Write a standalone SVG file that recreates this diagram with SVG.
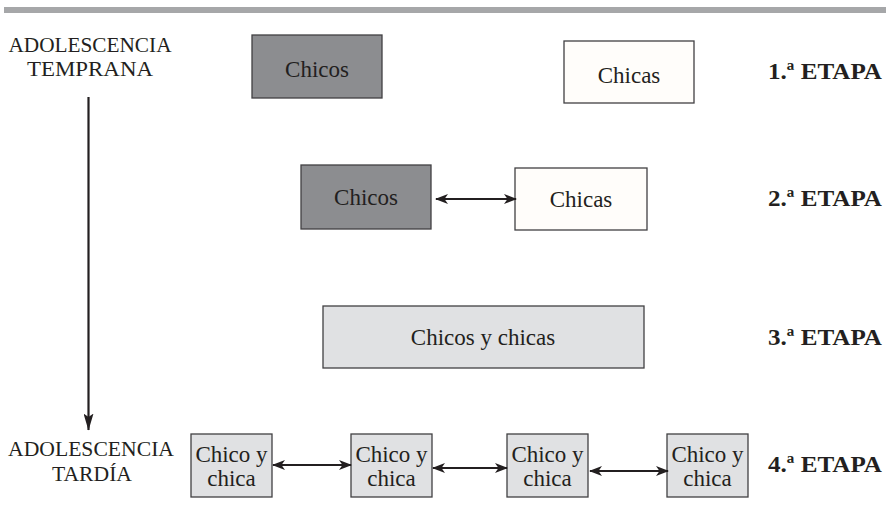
<svg xmlns="http://www.w3.org/2000/svg" width="886" height="526" viewBox="0 0 886 526">
<defs>
<marker id="ah" viewBox="0 0 13 10" refX="12" refY="5" markerWidth="13" markerHeight="10" markerUnits="userSpaceOnUse" orient="auto-start-reverse">
<path d="M0,0 L13,5 L0,10 L3.5,5 z" fill="#231f20"/>
</marker>
<marker id="ahv" viewBox="0 0 10 17" refX="5" refY="16.5" markerWidth="10" markerHeight="17" markerUnits="userSpaceOnUse" orient="0">
<path d="M0,0 L5,3.5 L10,0 L5,17 z" fill="#231f20"/>
</marker>
<style>
text{font-family:'Liberation Serif','Times New Roman',serif;fill:#231f20;}
.lbl{font-size:23px;text-anchor:middle;}
.side{font-size:21.5px;text-anchor:middle;}
.et{font-size:23px;font-weight:bold;}
.bx{stroke:#414042;stroke-width:1.3;}
.dark{fill:#8c8d90;}
.white{fill:#fffdfa;}
.light{fill:#e0e1e3;}
.conn{stroke:#231f20;stroke-width:2.2;fill:none;}
</style>
</defs>
<rect x="4" y="7" width="882" height="6" fill="#a6a7a9"/>
<g id="side-labels">
<text class="side"><tspan x="90" y="52" textLength="163" lengthAdjust="spacingAndGlyphs">ADOLESCENCIA</tspan><tspan x="90" y="76" textLength="126" lengthAdjust="spacingAndGlyphs">TEMPRANA</tspan></text>
<text class="side"><tspan x="91" y="456" textLength="166" lengthAdjust="spacingAndGlyphs">ADOLESCENCIA</tspan><tspan x="92" y="481" textLength="80" lengthAdjust="spacingAndGlyphs">TARDÍA</tspan></text>
</g>
<g id="stage-labels">
<text class="et" x="768" y="79" textLength="114" lengthAdjust="spacingAndGlyphs">1.ª ETAPA</text>
<text class="et" x="768" y="206" textLength="114" lengthAdjust="spacingAndGlyphs">2.ª ETAPA</text>
<text class="et" x="768" y="345" textLength="114" lengthAdjust="spacingAndGlyphs">3.ª ETAPA</text>
<text class="et" x="768" y="472" textLength="114" lengthAdjust="spacingAndGlyphs">4.ª ETAPA</text>
</g>
<g id="n1-chicos"><rect class="bx dark" x="252" y="35" width="130" height="63"/><text class="lbl" x="317" y="77">Chicos</text></g>
<g id="n1-chicas"><rect class="bx white" x="564" y="41" width="130" height="62"/><text class="lbl" x="629" y="83">Chicas</text></g>
<g id="n2-chicos"><rect class="bx dark" x="301" y="165" width="130" height="64"/><text class="lbl" x="366" y="205">Chicos</text></g>
<g id="n2-chicas"><rect class="bx white" x="515" y="168" width="132" height="62"/><text class="lbl" x="581" y="207">Chicas</text></g>
<g id="n3"><rect class="bx light" x="323" y="306" width="321" height="62"/><text class="lbl" x="483" y="345">Chicos y chicas</text></g>
<g id="n4a"><rect class="bx light" x="191" y="434" width="81" height="63"/><text class="lbl" x="231.5" y="462">Chico y</text><text class="lbl" x="231.5" y="486">chica</text></g>
<g id="n4b"><rect class="bx light" x="351" y="434" width="81" height="63"/><text class="lbl" x="391.5" y="462">Chico y</text><text class="lbl" x="391.5" y="486">chica</text></g>
<g id="n4c"><rect class="bx light" x="507" y="434" width="81" height="63"/><text class="lbl" x="547.5" y="462">Chico y</text><text class="lbl" x="547.5" y="486">chica</text></g>
<g id="n4d"><rect class="bx light" x="667" y="434" width="81" height="63"/><text class="lbl" x="707.5" y="462">Chico y</text><text class="lbl" x="707.5" y="486">chica</text></g>
<g id="connectors">
<line class="conn" x1="88.5" y1="97" x2="88.5" y2="430" marker-end="url(#ahv)"/>
<line class="conn" x1="436" y1="199" x2="516" y2="199" marker-start="url(#ah)" marker-end="url(#ah)"/>
<line class="conn" x1="273" y1="465" x2="351" y2="465" marker-start="url(#ah)" marker-end="url(#ah)"/>
<line class="conn" x1="433" y1="468" x2="507" y2="468" marker-start="url(#ah)" marker-end="url(#ah)"/>
<line class="conn" x1="590" y1="471" x2="668" y2="471" marker-start="url(#ah)" marker-end="url(#ah)"/>
</g>
</svg>
